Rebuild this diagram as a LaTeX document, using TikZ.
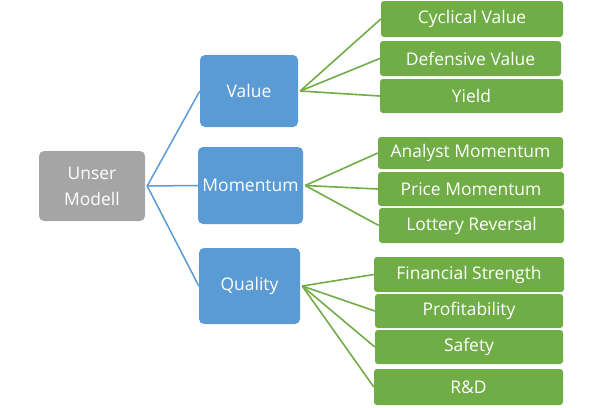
\documentclass[tikz,border=0pt]{standalone}
\usepackage{fontspec}
\setmainfont{Open Sans}
\definecolor{gbox}{HTML}{A5A5A5}
\definecolor{bbox}{HTML}{5B9BD5}
\definecolor{grbox}{HTML}{70AD47}
\begin{document}
\begin{tikzpicture}[x=1bp,y=-1bp,
  base/.style={inner sep=0pt, text=white, font=\fontsize{17.5}{26}\selectfont, align=center},
  graybox/.style={base, fill=gbox, rounded corners=5bp},
  bluebox/.style={base, fill=bbox, rounded corners=5bp},
  greenbox/.style={base, fill=grbox, rounded corners=3bp},
  blueline/.style={draw=bbox, line width=1.5bp},
  greenline/.style={draw=grbox, line width=1.6bp}]
\useasboundingbox (0,0) rectangle (609,407);
\node[graybox, minimum width=106bp, minimum height=70bp] (um) at (92,186) {Unser\\Modell};
\node[bluebox, minimum width=98bp, minimum height=72bp] (val) at (249,91) {Value};
\node[bluebox, minimum width=105bp, minimum height=77bp] (mom) at (250.5,185.5) {Momentum};
\node[bluebox, minimum width=101bp, minimum height=76bp] (qual) at (249.5,286) {Quality};
\node[greenbox, minimum width=182bp, minimum height=36bp] (cv) at (472,19) {Cyclical Value};
\node[greenbox, minimum width=181bp, minimum height=35bp] (dv) at (470.5,58.5) {Defensive Value};
\node[greenbox, minimum width=183bp, minimum height=34bp] (yi) at (471.5,96) {Yield};
\node[greenbox, minimum width=185bp, minimum height=32bp] (am) at (470.5,153) {Analyst Momentum};
\node[greenbox, minimum width=186bp, minimum height=34bp] (pm) at (471,189) {Price Momentum};
\node[greenbox, minimum width=185bp, minimum height=35bp] (lr) at (471.5,225.5) {Lottery Reversal};
\node[greenbox, minimum width=190bp, minimum height=35bp] (fs) at (469,274.5) {Financial Strength};
\node[greenbox, minimum width=188bp, minimum height=34bp] (pr) at (469,311) {Profitability};
\node[greenbox, minimum width=188bp, minimum height=34bp] (sa) at (469,347) {Safety};
\node[greenbox, minimum width=189bp, minimum height=36bp] (rd) at (468.5,387) {R\&D};
\coordinate (umr) at ([xshift=2bp]um.east);
\coordinate (valr) at ([xshift=2bp]val.east);
\coordinate (momr) at ([xshift=2bp]mom.east);
\coordinate (qualr) at ([xshift=2bp]qual.east);
\draw[blueline] (umr) -- (val.west);
\draw[blueline] (umr) -- (mom.west);
\draw[blueline] (umr) -- (qual.west);
\foreach \t in {cv,dv,yi} \draw[greenline] (valr) -- (\t.west);
\foreach \t in {am,pm,lr} \draw[greenline] (momr) -- (\t.west);
\foreach \t in {fs,pr,sa,rd} \draw[greenline] (qualr) -- (\t.west);
\end{tikzpicture}
\end{document}
